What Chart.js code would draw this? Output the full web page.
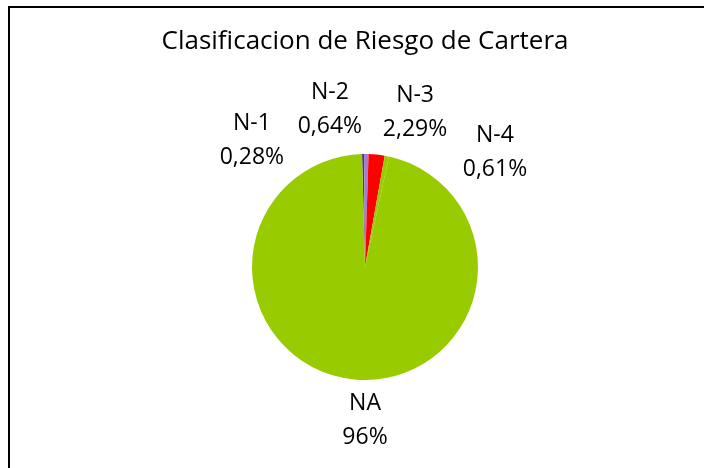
<!DOCTYPE html>
<html>
<head>
<meta charset="utf-8">
<script src="https://cdn.jsdelivr.net/npm/chart.js@4.4.1/dist/chart.umd.min.js"></script>
<style>
    html, body { margin: 0; padding: 0; background: #fff; }
    #wrap { position: relative; width: 704px; height: 468px; overflow: hidden; }
    #frame {
        position: absolute; left: 8px; top: 6px; width: 800px; height: 600px;
        border-left: 2px solid #000; border-top: 2px solid #000;
    }
    canvas { position: absolute; left: 0; top: 0; }
</style>
</head>
<body>
<div id="wrap">
    <div id="frame"></div>
    <canvas id="pie" width="704" height="468"></canvas>
</div>
<script>
// datos del grafico
const categories = ['N-1', 'N-2', 'N-3', 'N-4', 'NA'];
const shares = [0.28, 0.64, 2.29, 0.61, 96.18];
const shareLabels = ['0,28%', '0,64%', '2,29%', '0,61%', '96%'];
const sliceColors = ['#5a2b84', '#9c80d2', '#ff0000', '#99cc00', '#99cc00'];

// donde va cada etiqueta: angulo (grados desde arriba) y distancia al centro
const labelAngles = [-41.7, -12.6, 18, 48.7, 180];
const labelDist = [170, 161, 162, 173, 153];

const FONT = "'Open Sans', 'Noto Sans', sans-serif";

const chromePlugin = {
    id: 'chrome',
    afterDraw(chart) {
        const ctx = chart.ctx;
        const arc0 = chart.getDatasetMeta(0).data[0];
        const cx = arc0.x, cy = arc0.y;

        ctx.save();
        ctx.fillStyle = '#000';
        ctx.textAlign = 'center';
        ctx.textBaseline = 'middle';

        ctx.font = `26px ${FONT}`;
        ctx.fillText('Clasificacion de Riesgo de Cartera', 365, 42);

        ctx.font = `23px ${FONT}`;
        categories.forEach((name, i) => {
            const a = labelAngles[i] * Math.PI / 180;
            const x = cx + labelDist[i] * Math.sin(a);
            const y = cy - labelDist[i] * Math.cos(a);
            ctx.fillText(name, x, y - 17);
            ctx.fillText(shareLabels[i], x, y + 17);
        });
        ctx.restore();
    }
};

new Chart(document.getElementById('pie'), {
    type: 'pie',
    data: {
        labels: categories,
        datasets: [{
            data: shares,
            backgroundColor: sliceColors,
            borderWidth: 0
        }]
    },
    options: {
        responsive: false,
        animation: false,
        rotation: -1.5,
        layout: { padding: { top: 154, bottom: 88, left: 252, right: 226 } },
        plugins: {
            legend: { display: false },
            title: { display: false },
            tooltip: { enabled: false }
        }
    },
    plugins: [chromePlugin]
});
</script>
</body>
</html>
